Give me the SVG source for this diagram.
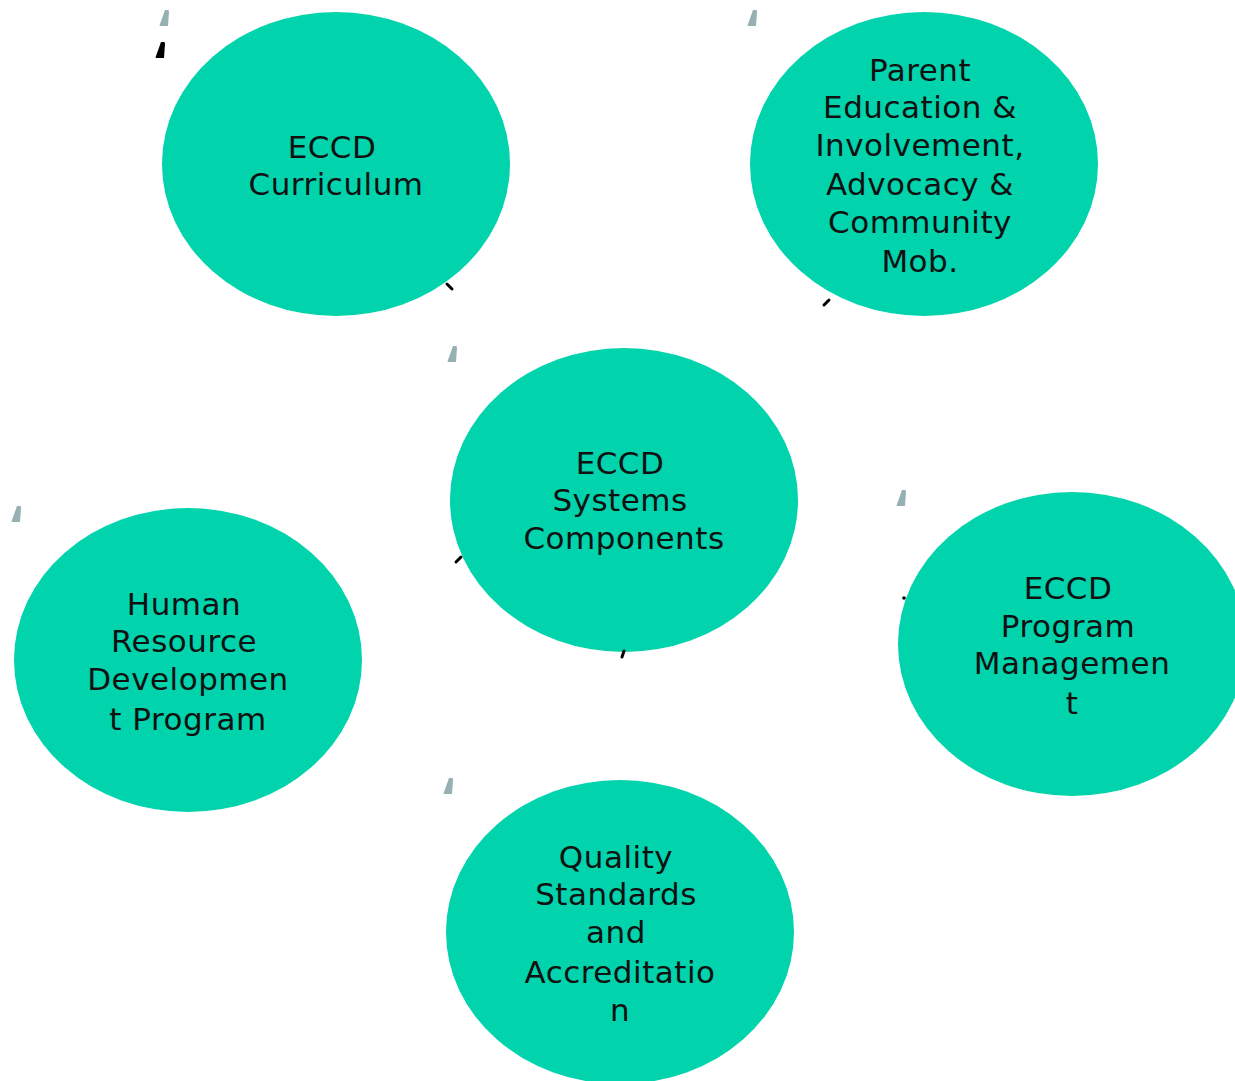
<svg xmlns="http://www.w3.org/2000/svg" width="1235" height="1081" viewBox="0 0 1235 1081">
<style>
.n{fill:#01D3AC}
.t{font-family:"DejaVu Sans",sans-serif;font-size:31px;letter-spacing:0.5px;fill:#111;text-anchor:middle}
.g{fill:#97B0B4}
.k{stroke:#000;stroke-width:3;stroke-linecap:round;fill:none}
</style>
<defs>
<path id="mk" d="M5,0 L8,0 Q9,0 9,2 L8,16 L0,16 Q-1,16 0,14 Z"/>
</defs>
<rect width="1235" height="1081" fill="#fff"/>
<g id="marks">
<use href="#mk" x="160" y="10" class="g"/>
<use href="#mk" x="748" y="10" class="g"/>
<use href="#mk" x="448" y="346" class="g"/>
<use href="#mk" x="897" y="490" class="g"/>
<use href="#mk" x="12" y="506" class="g"/>
<use href="#mk" x="444" y="778" class="g"/>
<use href="#mk" x="156" y="42" fill="#000"/>
</g>
<g id="n1"><ellipse class="n" cx="336" cy="164" rx="174" ry="152"/>
<text class="t"><tspan x="332" y="158">ECCD</tspan><tspan x="336" y="195">Curriculum</tspan></text></g>
<g id="n2"><ellipse class="n" cx="924" cy="164" rx="174" ry="152"/>
<text class="t"><tspan x="920" y="81">Parent</tspan><tspan x="920" y="118">Education &amp;</tspan><tspan x="920" y="156">Involvement,</tspan><tspan x="920" y="195">Advocacy &amp;</tspan><tspan x="920" y="233">Community</tspan><tspan x="920" y="272">Mob.</tspan></text></g>
<g id="n3"><ellipse class="n" cx="624" cy="500" rx="174" ry="152"/>
<text class="t"><tspan x="620" y="474">ECCD</tspan><tspan x="620" y="511">Systems</tspan><tspan x="624" y="549">Components</tspan></text></g>
<g id="n4"><ellipse class="n" cx="188" cy="660" rx="174" ry="152"/>
<text class="t"><tspan x="184" y="615">Human</tspan><tspan x="184" y="652">Resource</tspan><tspan x="188" y="690">Developmen</tspan><tspan x="188" y="730">t Program</tspan></text></g>
<g id="n5"><ellipse class="n" cx="1072" cy="644" rx="174" ry="152"/>
<text class="t"><tspan x="1068" y="599">ECCD</tspan><tspan x="1068" y="637">Program</tspan><tspan x="1072" y="674">Managemen</tspan><tspan x="1072" y="714">t</tspan></text></g>
<g id="n6"><ellipse class="n" cx="620" cy="932" rx="174" ry="152"/>
<text class="t"><tspan x="616" y="868">Quality</tspan><tspan x="616" y="905">Standards</tspan><tspan x="616" y="943">and</tspan><tspan x="620" y="983">Accreditatio</tspan><tspan x="620" y="1021">n</tspan></text></g>
<g id="connectors">
<line class="k" x1="447" y1="284" x2="452" y2="289"/>
<line class="k" x1="824" y1="305" x2="829" y2="300"/>
<line class="k" x1="456" y1="562" x2="461" y2="557"/>
<line class="k" x1="622" y1="657" x2="624" y2="651"/>
<circle cx="904" cy="598" r="1.8" fill="#000"/>
</g>
</svg>
